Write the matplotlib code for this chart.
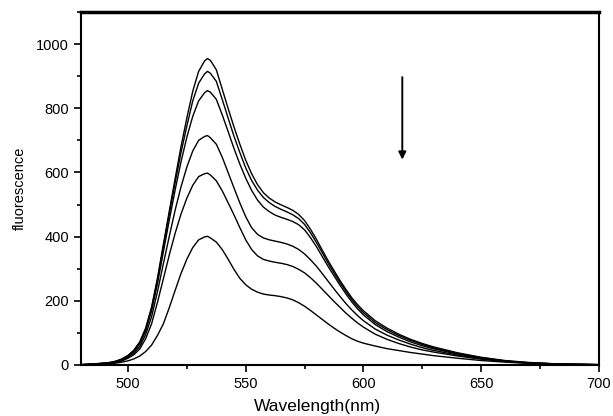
import matplotlib
matplotlib.use('Agg')
import matplotlib.pyplot as plt
from matplotlib.ticker import MultipleLocator

plt.rcParams['font.family'] = ['Liberation Sans', 'DejaVu Sans']

# wavelength grid (nm)
wavelength = [480, 485, 490, 492.5, 495, 497.5, 500, 502.5, 505, 507.5, 510, 512.5, 515, 517.5,
              520, 522.5, 525, 527.5, 530, 532.5, 533.75, 535, 537.5, 540, 542.5, 545, 547.5,
              550, 552.5, 555, 557.5, 560, 562.5, 565, 567.5, 570, 572.5, 575, 577.5,
              580, 582.5, 585, 587.5, 590, 592.5, 595, 597.5, 600,
              605, 610, 615, 620, 625, 630, 640, 650, 660, 670, 680, 690, 700]

# fluorescence spectra, from highest to lowest
curve_a = [1, 3, 6, 8, 12, 19, 30, 46, 72, 115, 180, 270, 375, 478,
           580, 680, 770, 853, 915, 947, 955, 949, 920, 860, 800, 742, 688,
           638, 596, 562, 537, 520, 508, 499, 491, 482, 469, 450, 423,
           392, 358, 325, 294, 264, 236, 210, 188, 169,
           138, 115, 96, 80, 67, 56, 38, 24, 14, 8, 4, 2, 1]
curve_b = [1, 3, 6, 8, 12, 19, 29, 45, 70, 112, 176, 265, 368, 470,
           568, 662, 745, 823, 878, 907, 915, 909, 884, 828, 770, 713, 662,
           614, 575, 545, 522, 506, 494, 485, 477, 468, 456, 438, 412,
           382, 350, 317, 287, 257, 230, 204, 182, 163,
           132, 110, 92, 77, 64, 53, 36, 23, 13, 7, 4, 2, 1]
curve_c = [1, 3, 5, 7, 11, 17, 27, 42, 66, 106, 168, 253, 352, 450,
           545, 633, 710, 775, 823, 848, 855, 850, 828, 780, 728, 675, 626,
           582, 544, 514, 492, 478, 467, 460, 454, 447, 437, 421, 397,
           369, 338, 307, 278, 249, 222, 197, 175, 156,
           126, 104, 87, 72, 60, 50, 34, 21, 12, 7, 4, 2, 1]
curve_d = [1, 2, 5, 7, 10, 15, 24, 37, 58, 95, 150, 228, 315, 400,
           482, 555, 617, 667, 700, 712, 715, 708, 688, 648, 600, 552, 505,
           462, 428, 407, 396, 390, 386, 382, 377, 370, 360, 346, 328,
           308, 285, 261, 237, 214, 192, 172, 154, 138,
           112, 93, 78, 65, 54, 45, 31, 20, 12, 6, 3, 2, 1]
curve_e = [1, 2, 4, 6, 9, 13, 21, 32, 50, 82, 128, 195, 268, 342,
           410, 470, 520, 560, 587, 596, 598, 592, 574, 543, 506, 468, 428,
           390, 360, 340, 329, 324, 320, 317, 313, 307, 298, 287, 272,
           255, 236, 217, 198, 180, 162, 146, 131, 118,
           96, 80, 67, 56, 47, 40, 28, 18, 11, 6, 3, 2, 1]
curve_f = [0, 1, 3, 4, 6, 9, 13, 19, 28, 42, 62, 92, 128, 178,
           232, 285, 330, 366, 390, 399, 401, 396, 383, 360, 330, 298, 270,
           250, 236, 227, 221, 218, 216, 213, 209, 203, 194, 183, 170,
           156, 142, 128, 115, 103, 92, 82, 74, 68,
           59, 51, 45, 39, 34, 29, 21, 14, 9, 5, 3, 2, 1]

spectra = [curve_a, curve_b, curve_c, curve_d, curve_e, curve_f]

fig = plt.figure(figsize=(6.13, 4.16), dpi=100)
ax = fig.add_axes([0.132, 0.1226, 0.845, 0.8486])

for spec in spectra:
    ax.plot(wavelength, spec, color='black', linewidth=1.0)

# arrow showing decreasing intensity
ax.annotate('', xy=(616.5, 640), xytext=(616.5, 897),
            arrowprops=dict(arrowstyle='-|>', color='black', lw=1.4,
                            mutation_scale=11, shrinkA=0, shrinkB=0))

ax.set_xlim(480, 700)
ax.set_ylim(0, 1100)
ax.xaxis.set_major_locator(MultipleLocator(50))
ax.xaxis.set_minor_locator(MultipleLocator(25))
ax.yaxis.set_major_locator(MultipleLocator(200))
ax.yaxis.set_minor_locator(MultipleLocator(100))
ax.tick_params(which='both', direction='out', top=False, right=False, width=1.2, labelsize=10.5)
ax.tick_params(which='major', length=5)
ax.tick_params(which='minor', length=3)

for side in ['left', 'bottom', 'right']:
    ax.spines[side].set_linewidth(1.5)
ax.spines['top'].set_linewidth(2.5)

ax.set_xlabel('Wavelength(nm)', fontsize=12.5, x=0.457, labelpad=6)
ax.set_ylabel('fluorescence', fontsize=10.5, labelpad=7)

fig.savefig('out.png', dpi=100)
